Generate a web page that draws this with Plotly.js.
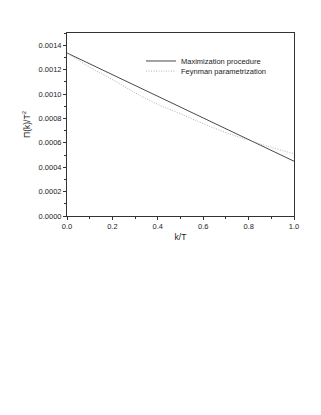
<!DOCTYPE html>
<html>
<head>
<meta charset="utf-8">
<script src="https://cdn.plot.ly/plotly-3.0.1.min.js"></script>
<style>
  html, body { margin: 0; padding: 0; background: #fff; }
  #chart { width: 321px; height: 415px; }
</style>
</head>
<body>
<div id="chart"></div>
<script>
// k/T values
var kT = [0.0, 0.1, 0.2, 0.3, 0.4, 0.5, 0.6, 0.7, 0.8, 0.9, 1.0];
// Maximization procedure
var maxProc = [0.001336, 0.001247, 0.001158, 0.001070, 0.000981, 0.000893, 0.000804, 0.000715, 0.000627, 0.000538, 0.000449];
// Feynman parametrization
var feynman = [0.001336, 0.001220, 0.001118, 0.001010, 0.000915, 0.000838, 0.000757, 0.000684, 0.000622, 0.000562, 0.000512];

var font = "Liberation Sans, Arial, sans-serif";

var trace1 = {
  x: kT, y: maxProc, mode: "lines", name: "Maximization procedure",
  line: { color: "#333333", width: 0.9 },
  legend: "legend"
};
var trace2 = {
  x: kT, y: feynman, mode: "lines", name: "Feynman parametrization",
  line: { color: "#a0a0a0", width: 0.8, dash: "1px,1.5px", shape: "spline" },
  legend: "legend2"
};

var legendStyle = function(y) {
  return {
    x: 0.326, y: y, xanchor: "left", yanchor: "middle",
    bgcolor: "rgba(0,0,0,0)", borderwidth: 0, itemwidth: 30,
    font: { family: font, size: 7.5, color: "#222" }
  };
};

var layout = {
  width: 321, height: 415,
  margin: { l: 67, r: 27, t: 33, b: 199 },
  paper_bgcolor: "#fff", plot_bgcolor: "#fff",
  font: { family: font, size: 7.5, color: "#222" },
  showlegend: true,
  legend: legendStyle(0.847),
  legend2: legendStyle(0.792),
  xaxis: {
    range: [0, 1], dtick: 0.2, tickformat: ".1f",
    showgrid: false, zeroline: false,
    showline: true, linecolor: "#333", linewidth: 1, mirror: true,
    ticks: "outside", ticklen: 3, tickcolor: "#333", tickwidth: 1,
    minor: { dtick: 0.1, ticks: "outside", ticklen: 2, tickcolor: "#333" },
    title: { text: "k/T", font: { family: font, size: 8.5 }, standoff: 4 }
  },
  yaxis: {
    range: [0, 0.0015], dtick: 0.0002, tickformat: ".4f",
    showgrid: false, zeroline: false,
    showline: true, linecolor: "#333", linewidth: 1, mirror: true,
    ticks: "outside", ticklen: 3, tickcolor: "#333", tickwidth: 1,
    minor: { dtick: 0.0001, ticks: "outside", ticklen: 2, tickcolor: "#333" },
    title: { text: "Π(k)/T<sup>2</sup>", font: { family: font, size: 8.5 }, standoff: 6 }
  }
};

Plotly.newPlot("chart", [trace1, trace2], layout, { displayModeBar: false, staticPlot: true });
</script>
</body>
</html>
